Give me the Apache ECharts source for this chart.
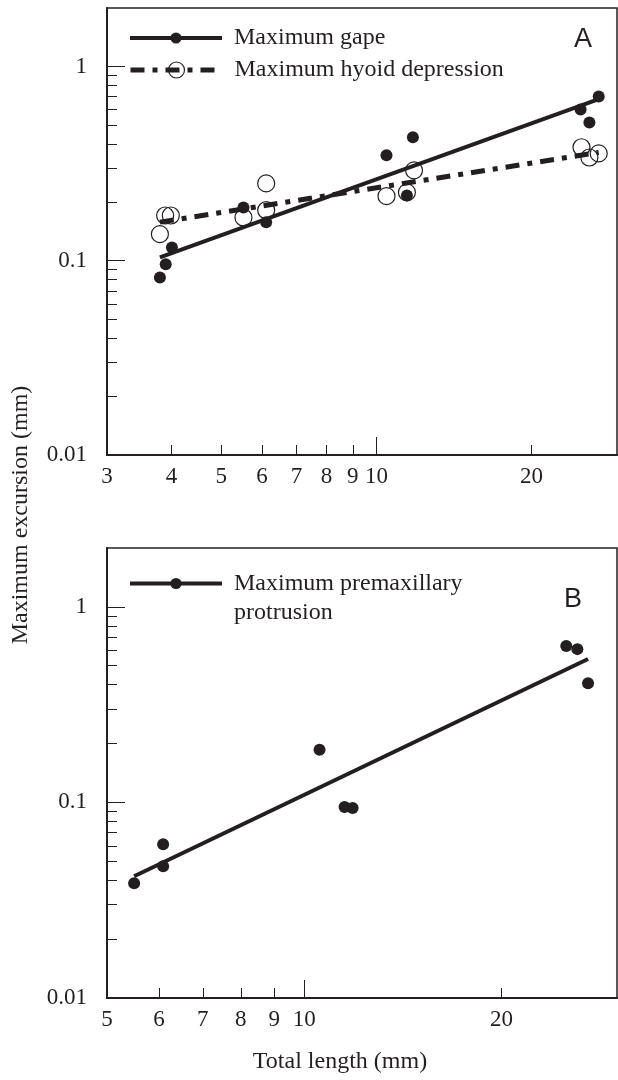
<!DOCTYPE html>
<html>
<head>
<meta charset="utf-8">
<script src="https://cdn.jsdelivr.net/npm/echarts@6/dist/echarts.min.js"></script>
<style>
html, body { margin: 0; padding: 0; background: #fff; }
#chart { width: 618px; height: 1080px; }
</style>
</head>
<body>
<div id="chart"></div>
<script>
// Panel A: total length (mm) against maximum excursion (mm), both log scale
const gapeLength = [3.80, 3.90, 4.01, 5.52, 6.11, 10.46, 11.46, 11.77, 24.9, 25.9, 27.0]
const gapeExcursion = [0.082, 0.096, 0.117, 0.188, 0.158, 0.349, 0.217, 0.432, 0.601, 0.515, 0.701]
const hyoidLength = [3.80, 3.89, 3.99, 5.52, 6.11, 6.11, 10.46, 11.46, 11.83, 25.0, 25.9, 27.0]
const hyoidExcursion = [0.137, 0.171, 0.171, 0.167, 0.250, 0.182, 0.215, 0.225, 0.292, 0.384, 0.340, 0.357]
// regression lines (end points)
const gapeFitLength = [3.8, 27.0]
const gapeFitExcursion = [0.104, 0.68]
const hyoidFitLength = [3.8, 27.0]
const hyoidFitExcursion = [0.158, 0.361]

// Panel B
const premaxLength = [5.50, 6.09, 6.09, 10.55, 11.52, 11.85, 25.1, 26.1, 27.1]
const premaxExcursion = [0.0386, 0.0612, 0.0472, 0.186, 0.0948, 0.0937, 0.630, 0.608, 0.407]
const premaxFitLength = [5.5, 27.1]
const premaxFitExcursion = [0.0419, 0.541]

// axes
const xRangeA = [3, 29.3]
const xRangeB = [5, 30]
const yRange = [0.01, 2]
const xLabelsA = [3, 4, 5, 6, 7, 8, 9, 10, 20]
const xLabelsB = [5, 6, 7, 8, 9, 10, 20]
const xMajorTicks = [10]
const xMinorTicks = [4, 5, 6, 7, 8, 9, 20]
const yLabels = [0.01, 0.1, 1]
const yMinorTicks = [0.02, 0.03, 0.04, 0.05, 0.06, 0.07, 0.08, 0.09, 0.2, 0.3, 0.4, 0.5, 0.6, 0.7, 0.8, 0.9]

const INK = '#231f20'
const SERIF = '"Liberation Serif", "DejaVu Serif", serif'
const SANS = '"Liberation Sans", Arial, sans-serif'
const lg = Math.log10
const pts = (xs, ys) => xs.map((x, i) => [lg(x), lg(ys[i])])
const fmtX = v => String(Math.round(Math.pow(10, v)))
const fmtY = v => String(Number(Math.pow(10, v).toPrecision(1)))

function xAxes(grid, range, labels) {
  const base = { type: 'value', gridIndex: grid, position: 'bottom', min: lg(range[0]), max: lg(range[1]), splitLine: { show: false } }
  return [
    {
      ...base,
      axisLine: { onZero: false, lineStyle: { color: INK, width: 2 } },
      axisTick: { inside: true, length: 10, customValues: xMinorTicks.map(lg), lineStyle: { color: INK, width: 1 } },
      axisLabel: { customValues: labels.map(lg), formatter: fmtX, color: INK, fontFamily: SERIF, fontSize: 23, margin: 10 }
    },
    {
      ...base,
      axisLine: { show: false, onZero: false },
      axisTick: { inside: true, length: 18, customValues: xMajorTicks.map(lg), lineStyle: { color: INK, width: 1 } },
      axisLabel: { show: false }
    }
  ]
}

function yAxes(grid) {
  const base = { type: 'value', gridIndex: grid, position: 'left', min: lg(yRange[0]), max: lg(yRange[1]), splitLine: { show: false } }
  return [
    {
      ...base,
      axisLine: { onZero: false, lineStyle: { color: INK, width: 2 } },
      axisTick: { inside: true, length: 18, customValues: yLabels.map(lg), lineStyle: { color: INK, width: 1 } },
      axisLabel: { customValues: yLabels.map(lg), formatter: fmtY, color: INK, fontFamily: SERIF, fontSize: 23, margin: 20 }
    },
    {
      ...base,
      axisLine: { show: false, onZero: false },
      axisTick: { inside: true, length: 10, customValues: yMinorTicks.map(lg), lineStyle: { color: INK, width: 1 } },
      axisLabel: { show: false }
    }
  ]
}

const legendText = { color: INK, fontFamily: SERIF, fontSize: 24, lineHeight: 26, padding: [0, 0, 0, 7] }

const chart = echarts.init(document.getElementById('chart'))

chart.setOption({
  animation: false,
  backgroundColor: '#fff',
  grid: [
    { left: 107, top: 8, width: 510, height: 447, show: true, borderColor: INK, borderWidth: 1.5 },
    { left: 107, top: 548, width: 510, height: 450, show: true, borderColor: INK, borderWidth: 1.5 }
  ],
  xAxis: [...xAxes(0, xRangeA, xLabelsA), ...xAxes(1, xRangeB, xLabelsB)],
  yAxis: [...yAxes(0), ...yAxes(1)],
  legend: [
    {
      data: ['Maximum gape'], left: 128, top: 25, padding: 0,
      itemWidth: 92, itemHeight: 14, selectedMode: false,
      lineStyle: { width: 4 },
      textStyle: legendText
    },
    {
      data: ['Maximum hyoid depression'], left: 128, top: 57, padding: 0,
      itemWidth: 92, itemHeight: 20, selectedMode: false,
      lineStyle: { width: 5 },
      itemStyle: { borderWidth: 1.2 },
      textStyle: legendText
    },
    {
      // leading empty line keeps the icon level with the first text line
      data: ['Maximum premaxillary\nprotrusion'], left: 128, top: 540, padding: 0,
      itemWidth: 92, itemHeight: 14, selectedMode: false,
      lineStyle: { width: 4 },
      formatter: name => '\n' + name,
      textStyle: { ...legendText, lineHeight: 29 }
    }
  ],
  graphic: [
    { type: 'text', x: 583, y: 40, style: { text: 'A', fill: INK, fontFamily: SANS, fontSize: 27, align: 'center', verticalAlign: 'middle' } },
    { type: 'text', x: 573, y: 600, style: { text: 'B', fill: INK, fontFamily: SANS, fontSize: 27, align: 'center', verticalAlign: 'middle' } },
    { type: 'text', x: 21, y: 515, rotation: Math.PI / 2, style: { text: 'Maximum excursion (mm)', fill: INK, fontFamily: SERIF, fontSize: 24, align: 'center', verticalAlign: 'middle' } },
    { type: 'text', x: 340, y: 1062, style: { text: 'Total length (mm)', fill: INK, fontFamily: SERIF, fontSize: 24, align: 'center', verticalAlign: 'middle' } }
  ],
  series: [
    {
      name: 'Maximum gape', type: 'line', xAxisIndex: 0, yAxisIndex: 0,
      data: pts(gapeFitLength, gapeFitExcursion),
      symbol: 'circle', showSymbol: false, z: 2,
      lineStyle: { color: INK, width: 4 },
      itemStyle: { color: INK }
    },
    {
      name: 'Maximum hyoid depression', type: 'line', xAxisIndex: 0, yAxisIndex: 0,
      data: pts(hyoidFitLength, hyoidFitExcursion),
      symbol: 'circle', showSymbol: false, z: 2,
      lineStyle: { color: INK, width: 5, type: [14, 8, 5, 8] },
      itemStyle: { color: 'rgba(0,0,0,0)', borderColor: INK, borderWidth: 1.2 }
    },
    {
      name: 'Maximum gape', type: 'scatter', xAxisIndex: 0, yAxisIndex: 0,
      data: pts(gapeLength, gapeExcursion),
      symbol: 'circle', symbolSize: 12, z: 3,
      itemStyle: { color: INK, opacity: 1 }
    },
    {
      name: 'Maximum hyoid depression', type: 'scatter', xAxisIndex: 0, yAxisIndex: 0,
      data: pts(hyoidLength, hyoidExcursion),
      symbol: 'circle', symbolSize: 17, z: 3,
      itemStyle: { color: 'rgba(0,0,0,0)', borderColor: INK, borderWidth: 1.2, opacity: 1 }
    },
    {
      name: 'Maximum premaxillary\nprotrusion', type: 'line', xAxisIndex: 2, yAxisIndex: 2,
      data: pts(premaxFitLength, premaxFitExcursion),
      symbol: 'circle', showSymbol: false, z: 2,
      lineStyle: { color: INK, width: 4 },
      itemStyle: { color: INK }
    },
    {
      name: 'Maximum premaxillary\nprotrusion', type: 'scatter', xAxisIndex: 2, yAxisIndex: 2,
      data: pts(premaxLength, premaxExcursion),
      symbol: 'circle', symbolSize: 12, z: 3,
      itemStyle: { color: INK, opacity: 1 }
    }
  ]
})

window.addEventListener('resize', () => chart.resize())
</script>
</body>
</html>
